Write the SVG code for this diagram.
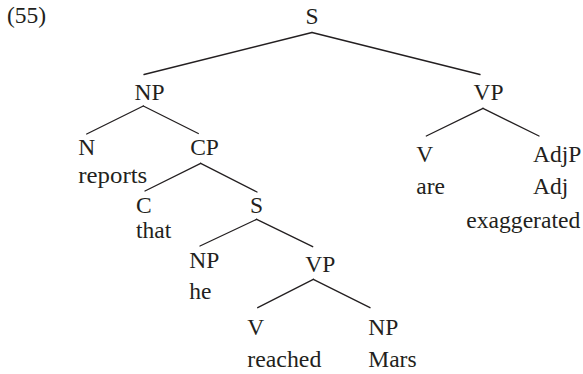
<svg xmlns="http://www.w3.org/2000/svg" width="583" height="374" viewBox="0 0 583 374">
<style>
line{stroke:#231f20;stroke-width:1.3;stroke-linecap:round}
</style>
<rect width="583" height="374" fill="#fff"/>
<g id="connectors">
<line x1="312" y1="32.5" x2="144" y2="74.5"/>
<line x1="312" y1="32.5" x2="480" y2="74.5"/>
<line x1="143.3" y1="106" x2="86.7" y2="134"/>
<line x1="143.3" y1="106" x2="198.3" y2="133.5"/>
<line x1="483" y1="108.3" x2="426.3" y2="136"/>
<line x1="483" y1="108.3" x2="539" y2="136"/>
<line x1="200.7" y1="163.3" x2="145" y2="191"/>
<line x1="200.7" y1="163.3" x2="257" y2="192"/>
<line x1="256.7" y1="219.3" x2="200" y2="246"/>
<line x1="256.7" y1="219.3" x2="312.7" y2="246.7"/>
<line x1="313.3" y1="279.3" x2="257.7" y2="307.7"/>
<line x1="313.3" y1="279.3" x2="370" y2="307.7"/>
</g>
<g font-family="Liberation Serif" font-size="23.5" fill="#231f20">
<text x="7" y="23">(55)</text>
<g id="n-S"><text x="312" y="24" text-anchor="middle">S</text></g>
<g id="n-NP"><text x="149.5" y="100" text-anchor="middle">NP</text></g>
<g id="n-VP"><text x="488.5" y="100" text-anchor="middle">VP</text></g>
<g id="n-N"><text x="78.3" y="155.3">N</text><text x="78.3" y="183.3" textLength="69" lengthAdjust="spacingAndGlyphs">reports</text></g>
<g id="n-CP"><text x="204.5" y="155.3" text-anchor="middle">CP</text></g>
<g id="n-V1"><text x="416.3" y="161.5">V</text><text x="416.3" y="194">are</text></g>
<g id="n-AdjP"><text x="533" y="161.5">AdjP</text><text x="533" y="194">Adj</text><text x="466.3" y="228.3" textLength="114" lengthAdjust="spacingAndGlyphs">exaggerated</text></g>
<g id="n-C"><text x="136" y="213.3">C</text><text x="136" y="238.3">that</text></g>
<g id="n-S2"><text x="256.5" y="213.3" text-anchor="middle">S</text></g>
<g id="n-NP2"><text x="189.3" y="268.3">NP</text><text x="189.3" y="299.3">he</text></g>
<g id="n-VP2"><text x="320.3" y="271.5" text-anchor="middle">VP</text></g>
<g id="n-V2"><text x="247.3" y="335">V</text><text x="247.3" y="366.7" textLength="74" lengthAdjust="spacingAndGlyphs">reached</text></g>
<g id="n-NP3"><text x="368.3" y="335">NP</text><text x="368.3" y="366.7">Mars</text></g>
</g>
</svg>
